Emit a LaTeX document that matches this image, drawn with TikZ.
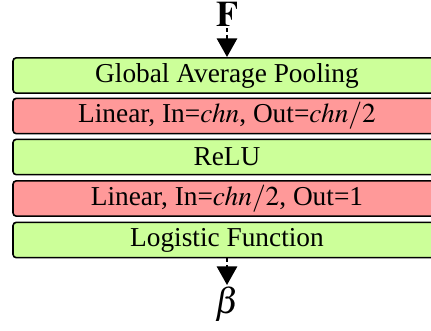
\documentclass[tikz,border=0pt]{standalone}
\usepackage{mathptmx}
\usepackage{fontspec}
\setmainfont{Liberation Serif}
\usetikzlibrary{arrows.meta}

\tikzset{every picture/.style={line width=0.75pt}}
\definecolor{layergreen}{RGB}{204,255,153}
\definecolor{layerred}{RGB}{255,153,153}

\begin{document}
\begin{tikzpicture}[x=0.75pt,y=0.75pt,yscale=-1,xscale=1,
  layer/.style={draw, line width=1.2pt, rounded corners=2.5pt, minimum width=321pt, minimum height=26.5pt, inner sep=0pt, font=\rmfamily\fontsize{20.5}{24}\selectfont},
  flow/.style={densely dashed, line width=2.2pt, -{Triangle[length=14pt,width=15pt]}}]
\useasboundingbox (0,0) rectangle (431,330);

% Input feature
\draw (227,14.5) node [inner sep=0.75pt] (featin) {\fontsize{27}{30}\selectfont$\mathbf{F}$};
% Layers
\draw (227,75.5) node [layer, fill=layergreen] (gap) {Global Average Pooling};
\draw (227,116) node [layer, fill=layerred] (lin1) {Linear, In=$chn$, Out=$chn/2$};
\draw (227,157) node [layer, fill=layergreen] (relu) {ReLU};
\draw (227,198.5) node [layer, fill=layerred] (lin2) {Linear, In=$chn/2$, Out=1};
\draw (227,240) node [layer, fill=layergreen] (logi) {Logistic Function};
% Output weight
\draw (227,304) node [inner sep=0.75pt] (beta) {\fontsize{27}{30}\selectfont$\beta$};

% Connectors
\draw [flow] (featin) -- (gap);
\draw [flow] (logi) -- (beta);

\end{tikzpicture}
\end{document}
